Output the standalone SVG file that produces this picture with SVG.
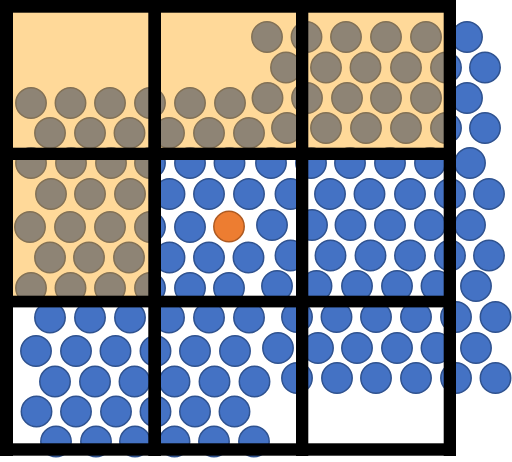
<svg xmlns="http://www.w3.org/2000/svg" width="512" height="462" viewBox="0 0 512 462">
<style>
.b{fill:#4472C4;stroke:#2F528F;stroke-width:1.5}
.o{fill:#ED7D31;stroke:#AE5A21;stroke-width:1.5}
.ov{fill:#FFA000;fill-opacity:0.4}
.g{fill:#000}
</style>
<rect x="0" y="0" width="512" height="462" fill="#fff"/>
<g id="particles-right">
<circle class="b" cx="267" cy="37" r="15.2"/><circle class="b" cx="306.5" cy="37" r="15.2"/><circle class="b" cx="346" cy="37" r="15.2"/><circle class="b" cx="386" cy="37" r="15.2"/><circle class="b" cx="426" cy="37" r="15.2"/><circle class="b" cx="467" cy="37" r="15.2"/>
<circle class="b" cx="286" cy="67.5" r="15.2"/><circle class="b" cx="326" cy="67.5" r="15.2"/><circle class="b" cx="365.5" cy="67.5" r="15.2"/><circle class="b" cx="406" cy="67.5" r="15.2"/><circle class="b" cx="446" cy="67.5" r="15.2"/><circle class="b" cx="485" cy="67.5" r="15.2"/>
<circle class="b" cx="267.5" cy="98" r="15.2"/><circle class="b" cx="307" cy="98" r="15.2"/><circle class="b" cx="347" cy="98" r="15.2"/><circle class="b" cx="386" cy="98" r="15.2"/><circle class="b" cx="426" cy="98" r="15.2"/><circle class="b" cx="467" cy="98" r="15.2"/>
<circle class="b" cx="287" cy="128" r="15.2"/><circle class="b" cx="326" cy="128" r="15.2"/><circle class="b" cx="366" cy="128" r="15.2"/><circle class="b" cx="406" cy="128" r="15.2"/><circle class="b" cx="446" cy="128" r="15.2"/><circle class="b" cx="485" cy="128" r="15.2"/>
<circle class="b" cx="271" cy="163" r="15.2"/><circle class="b" cx="311" cy="163" r="15.2"/><circle class="b" cx="350" cy="163" r="15.2"/><circle class="b" cx="390" cy="163" r="15.2"/><circle class="b" cx="430" cy="163" r="15.2"/><circle class="b" cx="470" cy="163" r="15.2"/>
<circle class="b" cx="290.5" cy="194" r="15.2"/><circle class="b" cx="330" cy="194" r="15.2"/><circle class="b" cx="369.5" cy="194" r="15.2"/><circle class="b" cx="410" cy="194" r="15.2"/><circle class="b" cx="450" cy="194" r="15.2"/><circle class="b" cx="489" cy="194" r="15.2"/>
<circle class="b" cx="272" cy="225" r="15.2"/><circle class="b" cx="312" cy="225" r="15.2"/><circle class="b" cx="350.5" cy="225" r="15.2"/><circle class="b" cx="390" cy="225" r="15.2"/><circle class="b" cx="430" cy="225" r="15.2"/><circle class="b" cx="470" cy="225" r="15.2"/>
<circle class="b" cx="290.5" cy="255.5" r="15.2"/><circle class="b" cx="330.5" cy="255.5" r="15.2"/><circle class="b" cx="370.5" cy="255.5" r="15.2"/><circle class="b" cx="410" cy="255.5" r="15.2"/><circle class="b" cx="450" cy="255.5" r="15.2"/><circle class="b" cx="489" cy="255.5" r="15.2"/>
<circle class="b" cx="277" cy="286" r="15.2"/><circle class="b" cx="316.5" cy="286" r="15.2"/><circle class="b" cx="357" cy="286" r="15.2"/><circle class="b" cx="397" cy="286" r="15.2"/><circle class="b" cx="436.5" cy="286" r="15.2"/><circle class="b" cx="476" cy="286" r="15.2"/>
<circle class="b" cx="297" cy="317" r="15.2"/><circle class="b" cx="336.5" cy="317" r="15.2"/><circle class="b" cx="376" cy="317" r="15.2"/><circle class="b" cx="416" cy="317" r="15.2"/><circle class="b" cx="456" cy="317" r="15.2"/><circle class="b" cx="495.5" cy="317" r="15.2"/>
<circle class="b" cx="278" cy="348" r="15.2"/><circle class="b" cx="318" cy="348" r="15.2"/><circle class="b" cx="357" cy="348" r="15.2"/><circle class="b" cx="397" cy="348" r="15.2"/><circle class="b" cx="436.5" cy="348" r="15.2"/><circle class="b" cx="476" cy="348" r="15.2"/>
<circle class="b" cx="297" cy="378" r="15.2"/><circle class="b" cx="337" cy="378" r="15.2"/><circle class="b" cx="376" cy="378" r="15.2"/><circle class="b" cx="416" cy="378" r="15.2"/><circle class="b" cx="456" cy="378" r="15.2"/><circle class="b" cx="495.5" cy="378" r="15.2"/>
</g>
<g id="particles-left">
<circle class="b" cx="31" cy="103" r="15.2"/><circle class="b" cx="70.5" cy="103" r="15.2"/><circle class="b" cx="110" cy="103" r="15.2"/><circle class="b" cx="150" cy="103" r="15.2"/><circle class="b" cx="190" cy="103" r="15.2"/><circle class="b" cx="230" cy="103" r="15.2"/>
<circle class="b" cx="50" cy="133" r="15.2"/><circle class="b" cx="90" cy="133" r="15.2"/><circle class="b" cx="129.5" cy="133" r="15.2"/><circle class="b" cx="169" cy="133" r="15.2"/><circle class="b" cx="209" cy="133" r="15.2"/><circle class="b" cx="249" cy="133" r="15.2"/>
<circle class="b" cx="31" cy="163" r="15.2"/><circle class="b" cx="71" cy="163" r="15.2"/><circle class="b" cx="111" cy="163" r="15.2"/><circle class="b" cx="150" cy="163" r="15.2"/><circle class="b" cx="190" cy="163" r="15.2"/><circle class="b" cx="229.5" cy="163" r="15.2"/>
<circle class="b" cx="51" cy="194" r="15.2"/><circle class="b" cx="90" cy="194" r="15.2"/><circle class="b" cx="130" cy="194" r="15.2"/><circle class="b" cx="169.5" cy="194" r="15.2"/><circle class="b" cx="209" cy="194" r="15.2"/><circle class="b" cx="249" cy="194" r="15.2"/>
<circle class="b" cx="30" cy="227" r="15.2"/><circle class="b" cx="70" cy="227" r="15.2"/><circle class="b" cx="110" cy="227" r="15.2"/><circle class="b" cx="150" cy="227" r="15.2"/><circle class="b" cx="190" cy="227" r="15.2"/><circle class="o" cx="229" cy="226.5" r="15.2"/>
<circle class="b" cx="50" cy="257.5" r="15.2"/><circle class="b" cx="89" cy="257.5" r="15.2"/><circle class="b" cx="129" cy="257.5" r="15.2"/><circle class="b" cx="169.5" cy="257.5" r="15.2"/><circle class="b" cx="209" cy="257.5" r="15.2"/><circle class="b" cx="248.5" cy="257.5" r="15.2"/>
<circle class="b" cx="31" cy="288" r="15.2"/><circle class="b" cx="70.5" cy="288" r="15.2"/><circle class="b" cx="110" cy="288" r="15.2"/><circle class="b" cx="150" cy="288" r="15.2"/><circle class="b" cx="190" cy="288" r="15.2"/><circle class="b" cx="229" cy="288" r="15.2"/>
<circle class="b" cx="50" cy="317.5" r="15.2"/><circle class="b" cx="90" cy="317.5" r="15.2"/><circle class="b" cx="130" cy="317.5" r="15.2"/><circle class="b" cx="169" cy="317.5" r="15.2"/><circle class="b" cx="209" cy="317.5" r="15.2"/><circle class="b" cx="249" cy="317.5" r="15.2"/>
<circle class="b" cx="36" cy="351" r="15.2"/><circle class="b" cx="76" cy="351" r="15.2"/><circle class="b" cx="115.5" cy="351" r="15.2"/><circle class="b" cx="155.5" cy="351" r="15.2"/><circle class="b" cx="195" cy="351" r="15.2"/><circle class="b" cx="235" cy="351" r="15.2"/>
<circle class="b" cx="55" cy="381.5" r="15.2"/><circle class="b" cx="95" cy="381.5" r="15.2"/><circle class="b" cx="134.5" cy="381.5" r="15.2"/><circle class="b" cx="174.5" cy="381.5" r="15.2"/><circle class="b" cx="214.5" cy="381.5" r="15.2"/><circle class="b" cx="254.5" cy="381.5" r="15.2"/>
<circle class="b" cx="36.5" cy="411.5" r="15.2"/><circle class="b" cx="76" cy="411.5" r="15.2"/><circle class="b" cx="116" cy="411.5" r="15.2"/><circle class="b" cx="155.5" cy="411.5" r="15.2"/><circle class="b" cx="195" cy="411.5" r="15.2"/><circle class="b" cx="234.5" cy="411.5" r="15.2"/>
<circle class="b" cx="56" cy="441.5" r="15.2"/><circle class="b" cx="96" cy="441.5" r="15.2"/><circle class="b" cx="135" cy="441.5" r="15.2"/><circle class="b" cx="174.5" cy="441.5" r="15.2"/><circle class="b" cx="214" cy="441.5" r="15.2"/><circle class="b" cx="254" cy="441.5" r="15.2"/>
</g>
<path id="ghost-region" class="ov" d="M6 6 H450 V154 H155 V302 H6 Z"/>
<g id="grid">
<rect class="g" x="0" y="0" width="13" height="456"/>
<rect class="g" x="148.3" y="0" width="12.7" height="456"/>
<rect class="g" x="296" y="0" width="12.3" height="456"/>
<rect class="g" x="443.7" y="0" width="12.3" height="456"/>
<rect class="g" x="0" y="0" width="456" height="12.7"/>
<rect class="g" x="0" y="147.7" width="456" height="12.3"/>
<rect class="g" x="0" y="295.7" width="456" height="11.7"/>
<rect class="g" x="0" y="443.3" width="456" height="12.4"/>
</g>
</svg>
